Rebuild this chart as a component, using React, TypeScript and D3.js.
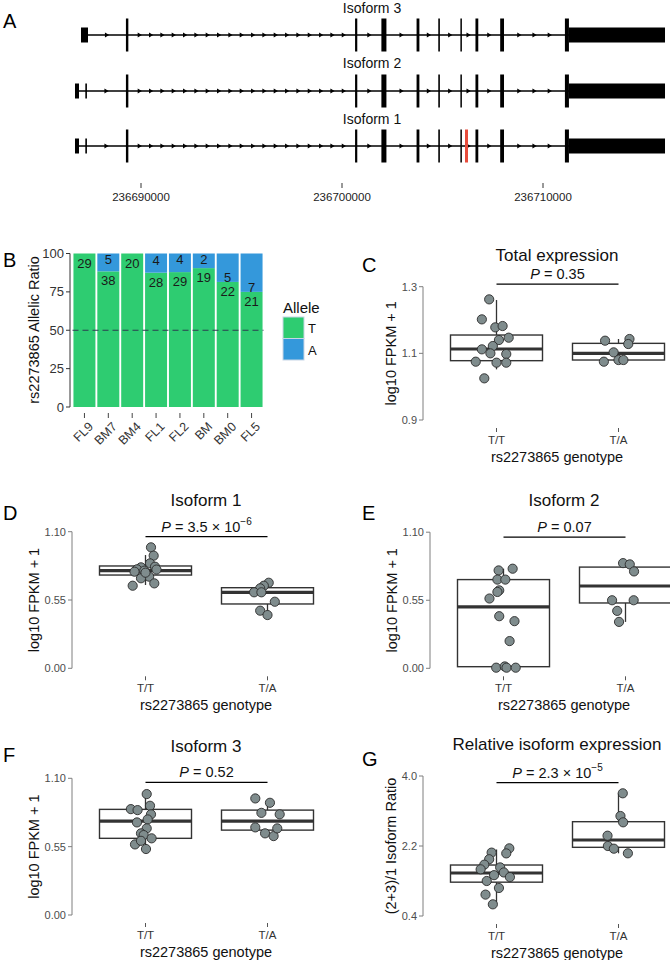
import React from "react";
import * as d3 from "d3";

const FONT = "'Liberation Sans', Arial, Helvetica, sans-serif";

// ---------------- Panel A data ----------------
const GENE_AXIS_TICKS = [236690000, 236700000, 236710000];
const ISOFORM_NAMES = ["Isoform 3", "Isoform 2", "Isoform 1"];
const ISO3_HEAD_EXONS = [[236687015, 236687363]];
const ISO12_HEAD_EXONS = [[236686716, 236686915], [236687230, 236687310]];
const SHARED_CODING_EXONS = [
  [236689250, 236689370],
  [236700650, 236700760],
  [236701960, 236702210],
  [236703710, 236703850],
  [236704790, 236704870],
  [236705890, 236705950],
  [236706640, 236706780],
  [236707870, 236708060],
  [236711090, 236711290],
];
const TAIL_UTR = [236711290, 236716070];
const SNP_POSITION = 236706194;

// ---------------- Panel B data ----------------
const SAMPLES = ["FL9", "BM7", "BM4", "FL1", "FL2", "BM", "BM0", "FL5"];
const COUNT_T = [29, 38, 20, 28, 29, 19, 22, 21];
const COUNT_A = [0, 5, 0, 4, 4, 2, 5, 7];
const B_TICKS = [0, 25, 50, 75, 100];

// ---------------- Panels C-G data ----------------
const GENOTYPES = ["T/T", "T/A"];

const C_TT = [1.262, 1.202, 1.178, 1.182, 1.14, 1.147, 1.112, 1.122, 1.1, 1.098, 1.075, 1.072, 1.072, 1.025];
const C_TT_JIT = [-0.06, -0.12, -0.01, 0.05, 0.02, 0.1, -0.12, -0.03, -0.05, 0.08, -0.17, 0.0, 0.08, -0.1];
const C_TT_BOX = [1.052, 1.078, 1.113, 1.155, 1.26];
const C_TA = [1.138, 1.143, 1.103, 1.128, 1.075, 1.08, 1.08];
const C_TA_JIT = [-0.11, 0.09, -0.04, 0.08, -0.12, 0.0, 0.04];
const C_TA_BOX = [1.075, 1.08, 1.1, 1.13, 1.143];
const C_TICKS = [0.9, 1.1, 1.3];

const D_TT = [0.974, 0.907, 0.845, 0.818, 0.813, 0.797, 0.778, 0.786, 0.738, 0.725, 0.665, 0.684, 0.795, 0.77];
const D_TT_JIT = [0.045, 0.067, 0.037, 0.078, -0.037, -0.07, -0.09, -0.01, 0.03, -0.037, -0.105, 0.072, 0.09, 0.0];
const D_TT_BOX = [0.671, 0.751, 0.786, 0.824, 0.912];
const D_TA = [0.689, 0.665, 0.644, 0.612, 0.612, 0.536, 0.464, 0.429];
const D_TA_JIT = [0.01, -0.03, -0.06, -0.11, -0.05, 0.06, -0.06, 0.0];
const D_TA_BOX = [0.456, 0.518, 0.612, 0.649, 0.66];

const E_TT = [0.791, 0.805, 0.717, 0.717, 0.63, 0.617, 0.564, 0.421, 0.381, 0.22, 0.005, 0.015, 0.005, 0.005];
const E_TT_JIT = [-0.04, 0.075, -0.05, 0.015, -0.035, -0.05, -0.115, -0.035, 0.09, 0.05, -0.06, 0.01, 0.025, 0.1];
const E_TT_BOX = [0.0, 0.013, 0.496, 0.717, 0.805];
const E_TA = [0.85, 0.84, 0.783, 0.55, 0.55, 0.464, 0.375];
const E_TA_JIT = [-0.02, 0.035, 0.07, -0.11, 0.067, -0.068, -0.053];
const E_TA_BOX = [0.375, 0.528, 0.665, 0.818, 0.85];

const F_TT = [0.973, 0.852, 0.844, 0.879, 0.81, 0.745, 0.769, 0.697, 0.657, 0.643, 0.617, 0.568, 0.597, 0.531];
const F_TT_JIT = [0.01, -0.12, -0.065, 0.037, 0.045, -0.07, 0.018, 0.01, -0.037, -0.015, 0.05, -0.086, -0.037, 0.004];
const F_TT_BOX = [0.536, 0.617, 0.756, 0.85, 0.978];
const F_TA = [0.938, 0.903, 0.822, 0.81, 0.705, 0.657, 0.635, 0.697];
const F_TA_JIT = [-0.1, 0.02, -0.05, 0.1, -0.1, -0.02, 0.05, 0.08];
const F_TA_BOX = [0.635, 0.683, 0.756, 0.844, 0.911];

const FPKM_TICKS = [0, 0.55, 1.1];

const G_TT = [2.14, 2.03, 2.01, 1.86, 1.72, 1.65, 1.6, 1.52, 1.45, 1.4, 1.3, 1.12, 0.95, 0.7];
const G_TT_JIT = [0.105, -0.04, 0.08, -0.06, -0.1, 0.03, -0.13, 0.06, -0.02, 0.11, -0.08, 0.02, -0.09, -0.03];
const G_TT_BOX = [0.7, 1.27, 1.506, 1.711, 2.11];
const G_TA = [3.555, 2.971, 2.809, 2.465, 2.2, 2.131, 2.012];
const G_TA_JIT = [0.035, 0.016, 0.038, -0.09, -0.087, -0.038, 0.077];
const G_TA_BOX = [2.012, 2.166, 2.354, 2.825, 3.555];
const G_TICKS = [0.4, 2.2, 4.0];

const SIG_Y = { C: 1.308, D: 1.06, E: 1.06, F: 1.068, G: 3.83 };

const BOX_PANELS = [
  {
    letter: "C", title: "Total expression", yTitle: "log10 FPKM + 1", domain: [0.9, 1.3], ticks: C_TICKS, fmt: ".1f",
    p: "0.35", pExp: null, sig: SIG_Y.C,
    groups: [[C_TT, C_TT_JIT, C_TT_BOX], [C_TA, C_TA_JIT, C_TA_BOX]],
    layout: { axisX: 423, top: 286.7, bottom: 420, lx: 362, ly: 272 },
  },
  {
    letter: "D", title: "Isoform 1", yTitle: "log10 FPKM + 1", domain: [0, 1.1], ticks: FPKM_TICKS, fmt: ".2f",
    p: "3.5 \u00d7 10", pExp: "\u22126", sig: SIG_Y.D,
    groups: [[D_TT, D_TT_JIT, D_TT_BOX], [D_TA, D_TA_JIT, D_TA_BOX]],
    layout: { axisX: 72, top: 531.7, bottom: 668.3, lx: 3, ly: 520 },
  },
  {
    letter: "E", title: "Isoform 2", yTitle: "log10 FPKM + 1", domain: [0, 1.1], ticks: FPKM_TICKS, fmt: ".2f",
    p: "0.07", pExp: null, sig: SIG_Y.E,
    groups: [[E_TT, E_TT_JIT, E_TT_BOX], [E_TA, E_TA_JIT, E_TA_BOX]],
    layout: { axisX: 430, top: 532.2, bottom: 668.3, lx: 362, ly: 520 },
  },
  {
    letter: "F", title: "Isoform 3", yTitle: "log10 FPKM + 1", domain: [0, 1.1], ticks: FPKM_TICKS, fmt: ".2f",
    p: "0.52", pExp: null, sig: SIG_Y.F,
    groups: [[F_TT, F_TT_JIT, F_TT_BOX], [F_TA, F_TA_JIT, F_TA_BOX]],
    layout: { axisX: 72, top: 778.3, bottom: 915, lx: 3, ly: 762 },
  },
  {
    letter: "G", title: "Relative isoform expression", yTitle: "(2+3)/1 Isoform Ratio", domain: [0.4, 4.0], ticks: G_TICKS, fmt: ".1f",
    p: "2.3 \u00d7 10", pExp: "\u22125", sig: SIG_Y.G,
    groups: [[G_TT, G_TT_JIT, G_TT_BOX], [G_TA, G_TA_JIT, G_TA_BOX]],
    layout: { axisX: 423, top: 776, bottom: 916, lx: 362, ly: 766 },
  },
];

// ---------------- Panel A ----------------
function PanelA() {
  const gx = d3.scaleLinear().domain([236690000, 236710000]).range([141, 543]);
  const trackY = [35, 91, 146];
  const labelY = [8, 63, 119];
  const heads = [ISO3_HEAD_EXONS, ISO12_HEAD_EXONS, ISO12_HEAD_EXONS];
  return (
    <g>
      <text x={3} y={28} fontSize={20}>A</text>
      {ISOFORM_NAMES.map((name, i) => {
        const y = trackY[i];
        const exons: { s: number; e: number; tall: boolean }[] = [
          ...heads[i].map((d) => ({ s: d[0], e: d[1], tall: false })),
          ...SHARED_CODING_EXONS.map((d) => ({ s: d[0], e: d[1], tall: true })),
          { s: TAIL_UTR[0], e: TAIL_UTR[1], tall: false },
        ];
        const x0 = gx(exons[0].s);
        const x1 = gx(exons[exons.length - 1].e);
        const arrows: number[] = [];
        for (let k = 0; k < exons.length - 1; k++) {
          const a = gx(exons[k].e);
          const b = gx(exons[k + 1].s);
          const len = b - a;
          let n = 0;
          if (len > 150) n = Math.round(len / 11.5) - 1;
          else if (len >= 10) n = Math.max(1, Math.floor(len / 20));
          for (let j = 1; j <= n; j++) arrows.push(a + (j * len) / (n + 1));
        }
        return (
          <g key={name}>
            <text x={372} y={labelY[i]} fontSize={14} textAnchor="middle" dominantBaseline="central" fill="#111">
              {name}
            </text>
            <line x1={x0} x2={x1} y1={y} y2={y} stroke="#000" strokeWidth={1.3} />
            {arrows.map((ax, j) => (
              <path key={j} d={`M${ax - 2},${y - 2.6}L${ax + 2.2},${y}L${ax - 2},${y + 2.6}Z`} fill="#000" />
            ))}
            {exons.map((ex, j) => {
              const xs = gx(ex.s);
              const w = Math.max(1.5, gx(ex.e) - xs);
              const h = ex.tall ? 33 : 15;
              return <rect key={j} x={xs} y={y - h / 2} width={w} height={h} fill="#000" />;
            })}
            {i === 2 && (
              <rect x={gx(SNP_POSITION) - 1.5} y={y - 16.5} width={3} height={33} fill="#e74c3c" />
            )}
          </g>
        );
      })}
      {GENE_AXIS_TICKS.map((t) => (
        <g key={t}>
          <line x1={gx(t)} x2={gx(t)} y1={183} y2={188} stroke="#333" strokeWidth={1} />
          <text x={gx(t)} y={201} fontSize={11.5} textAnchor="middle" fill="#222">
            {t}
          </text>
        </g>
      ))}
    </g>
  );
}

// ---------------- Panel B ----------------
function PanelB() {
  const x = d3.scaleBand().domain(SAMPLES).range([72.5, 263.5]).paddingInner(0.08).paddingOuter(0.04);
  const y = d3.scaleLinear().domain([0, 100]).range([407, 253.5]);
  const green = "#2ecc71";
  const blue = "#3498db";
  return (
    <g>
      <text x={3} y={267} fontSize={20}>B</text>
      {SAMPLES.map((s, i) => {
        const tot = COUNT_T[i] + COUNT_A[i];
        const pT = (COUNT_T[i] / tot) * 100;
        const bx = x(s)!;
        const bw = x.bandwidth();
        const aPos = pT >= 85 ? Math.min(pT + 8.2, 96.4) : pT + 2.6;
        return (
          <g key={s}>
            <rect x={bx} y={y(pT)} width={bw} height={y(0) - y(pT)} fill={green} />
            {COUNT_A[i] > 0 && <rect x={bx} y={y(100)} width={bw} height={y(pT) - y(100)} fill={blue} />}
            <text x={bx + bw / 2} y={y(pT - 6.2)} fontSize={13} textAnchor="middle" dominantBaseline="central" fill="#1a1a1a">
              {COUNT_T[i]}
            </text>
            {COUNT_A[i] > 0 && (
              <text x={bx + bw / 2} y={y(aPos)} fontSize={13} textAnchor="middle" dominantBaseline="central" fill="#1a1a1a">
                {COUNT_A[i]}
              </text>
            )}
            <line x1={bx + bw / 2} x2={bx + bw / 2} y1={413} y2={418} stroke="#444" strokeWidth={1} />
            <text
              transform={`translate(${bx + bw / 2 + 3},${421}) rotate(-45)`}
              textAnchor="end"
              dy="0.72em"
              fontSize={12.5}
              fill="#333"
            >
              {s}
            </text>
          </g>
        );
      })}
      <line x1={72.5} x2={263.5} y1={y(50)} y2={y(50)} stroke="#2c3e50" strokeWidth={1.1} strokeDasharray="6,4" />
      <line x1={70} x2={70} y1={y(100)} y2={y(0)} stroke="#333" strokeWidth={1} />
      {B_TICKS.map((t) => (
        <g key={t}>
          <line x1={66} x2={70} y1={y(t)} y2={y(t)} stroke="#333" strokeWidth={1} />
          <text x={64} y={y(t)} fontSize={13} textAnchor="end" dominantBaseline="central" fill="#333">
            {t}
          </text>
        </g>
      ))}
      <text transform={`translate(${34},${330}) rotate(-90)`} textAnchor="middle" dominantBaseline="central" fontSize={14.5} fill="#111">
        rs2273865 Allelic Ratio
      </text>
      <text x={283} y={313} fontSize={15} fill="#111">Allele</text>
      <rect x={283} y={317} width={21} height={21.5} fill={green} stroke="#c8d6e5" strokeWidth={1} />
      <rect x={283} y={338.5} width={21} height={21.5} fill={blue} stroke="#c8d6e5" strokeWidth={1} />
      <text x={308} y={328} fontSize={13} dominantBaseline="central" fill="#111">T</text>
      <text x={308} y={350} fontSize={13} dominantBaseline="central" fill="#111">A</text>
    </g>
  );
}

// ---------------- Box panels ----------------
function BoxPanel({ cfg }: { cfg: any }) {
  const L = cfg.layout;
  const unit = 122;
  const y = d3.scaleLinear().domain(cfg.domain).range([L.bottom, L.top]);
  const x = d3.scalePoint().domain(GENOTYPES).range([L.axisX + 73.5, L.axisX + 195.5]);
  const bw = 92;
  const fmt = d3.format(cfg.fmt);
  const mid = L.axisX + 134;
  const labW = d3.max(cfg.ticks.map((t: number) => fmt(t).length))! >= 4 ? 21.4 : 15.3;
  const yTitleX = L.axisX - 6 - labW - 11;
  const sigPx = y(cfg.sig);
  const ink = "#333";
  return (
    <g>
      <text x={L.lx} y={L.ly} fontSize={20}>{cfg.letter}</text>
      <text x={mid} y={L.top - 31.5} fontSize={17} textAnchor="middle" dominantBaseline="central" fill="#111">
        {cfg.title}
      </text>
      <line x1={x("T/T")} x2={x("T/A")} y1={sigPx} y2={sigPx} stroke="#000" strokeWidth={1.2} />
      <text x={(x("T/T")! + x("T/A")!) / 2} y={sigPx - 10} fontSize={14.5} textAnchor="middle" dominantBaseline="central" fill="#111">
        <tspan fontStyle="italic">P</tspan>
        <tspan>{" = " + cfg.p}</tspan>
        {cfg.pExp && (
          <tspan dy="-0.55em" fontSize={10}>
            {cfg.pExp}
          </tspan>
        )}
      </text>
      {/* y axis */}
      <line x1={L.axisX} x2={L.axisX} y1={L.top} y2={L.bottom} stroke="#7f7f7f" strokeWidth={1} />
      {cfg.ticks.map((t: number) => (
        <g key={t}>
          <line x1={L.axisX - 4} x2={L.axisX} y1={y(t)} y2={y(t)} stroke="#7f7f7f" strokeWidth={1} />
          <text x={L.axisX - 6} y={y(t)} fontSize={11} textAnchor="end" dominantBaseline="central" fill="#4d4d4d">
            {fmt(t)}
          </text>
        </g>
      ))}
      <text transform={`translate(${yTitleX},${(L.top + L.bottom) / 2}) rotate(-90)`} textAnchor="middle" dominantBaseline="central" fontSize={14.5} fill="#111">
        {cfg.yTitle}
      </text>
      {/* x axis */}
      {GENOTYPES.map((g) => (
        <g key={g}>
          <line x1={x(g)} x2={x(g)} y1={L.bottom + 8} y2={L.bottom + 12} stroke="#555" strokeWidth={1} />
          <text x={x(g)} y={L.bottom + 19.5} fontSize={11.5} textAnchor="middle" dominantBaseline="central" fill="#333">
            {g}
          </text>
        </g>
      ))}
      <text x={mid} y={L.bottom + 37} fontSize={14.5} textAnchor="middle" dominantBaseline="central" fill="#111">
        rs2273865 genotype
      </text>
      {/* boxes */}
      {cfg.groups.map((grp: any, gi: number) => {
        const cx = x(GENOTYPES[gi])!;
        const [lo, q1, med, q3, hi] = grp[2];
        return (
          <g key={gi}>
            <line x1={cx} x2={cx} y1={y(q3)} y2={y(hi)} stroke={ink} strokeWidth={1.3} />
            <line x1={cx} x2={cx} y1={y(q1)} y2={y(lo)} stroke={ink} strokeWidth={1.3} />
            <rect x={cx - bw / 2} y={y(q3)} width={bw} height={y(q1) - y(q3)} fill="#fff" stroke={ink} strokeWidth={1.4} />
            <line x1={cx - bw / 2} x2={cx + bw / 2} y1={y(med)} y2={y(med)} stroke={ink} strokeWidth={3.2} />
          </g>
        );
      })}
      {cfg.groups.map((grp: any, gi: number) => {
        const cx = x(GENOTYPES[gi])!;
        return grp[0].map((v: number, k: number) => (
          <circle key={`${gi}-${k}`} cx={cx + grp[1][k] * unit} cy={y(v)} r={4.6} fill="#7f8c8d" stroke="#2b2b2b" strokeWidth={0.9} />
        ));
      })}
    </g>
  );
}

export default function App() {
  return (
    <svg
      width={670}
      height={960}
      style={{ position: "absolute", left: 0, top: 0, background: "#fff" }}
      fontFamily={FONT}
    >
      <rect width={670} height={960} fill="#fff" />
      <PanelA />
      <PanelB />
      {BOX_PANELS.map((cfg) => (
        <BoxPanel key={cfg.letter} cfg={cfg} />
      ))}
    </svg>
  );
}
